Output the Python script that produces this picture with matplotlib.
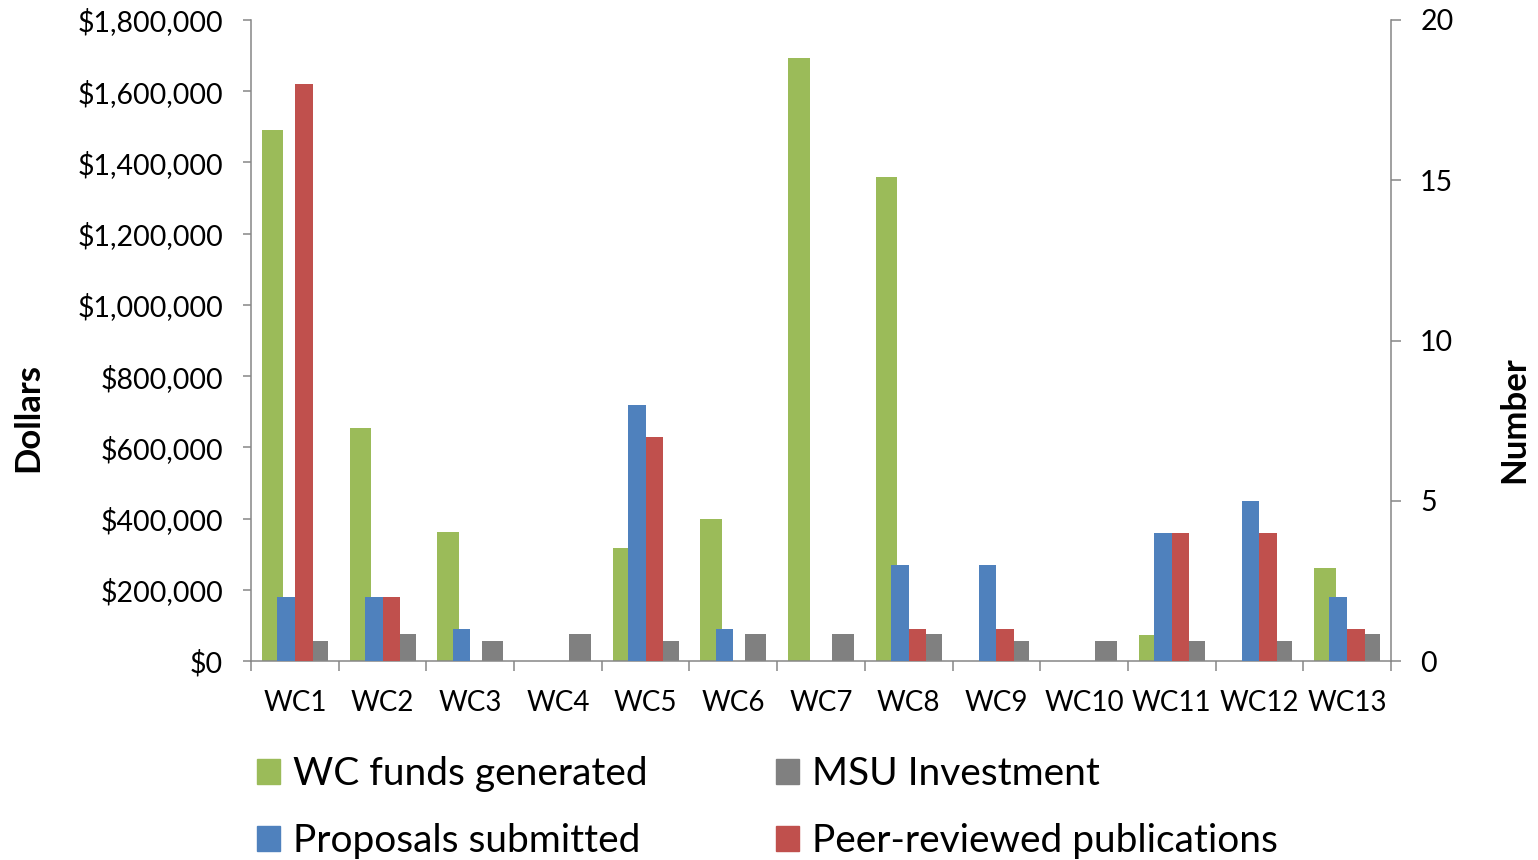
import numpy as np
import matplotlib
matplotlib.use("Agg")
import matplotlib.pyplot as plt
from matplotlib.patches import Patch
from matplotlib.ticker import FuncFormatter, MultipleLocator

plt.rcParams['font.family'] = ['Lato', 'DejaVu Sans']

# data
categories = ["WC1", "WC2", "WC3", "WC4", "WC5", "WC6", "WC7",
              "WC8", "WC9", "WC10", "WC11", "WC12", "WC13"]
wc_funds = [1490000, 653000, 363000, 0, 318000, 400000, 1693000,
            1360000, 0, 0, 73000, 0, 260000]
msu_investment = [57000, 77000, 57000, 77000, 57000, 77000, 77000,
                  77000, 57000, 57000, 57000, 57000, 77000]
proposals = [2, 2, 1, 0, 8, 1, 0, 3, 3, 0, 4, 5, 2]
publications = [18, 2, 0, 0, 7, 0, 0, 1, 1, 0, 4, 4, 1]

GREEN = '#9BBB59'
BLUE = '#4F81BD'
RED = '#C0504D'
GRAY = '#808080'
AXIS = '#868686'

fig = plt.figure(figsize=(15.38, 8.6), dpi=100)
ax = fig.add_axes([251 / 1538, 1 - 661 / 860, 1140 / 1538, 641 / 860])
ax2 = ax.twinx()

x = np.arange(len(categories))

# dollars on the left axis, counts on the right one
ax.bar(x - 0.253, wc_funds, width=0.247, color=GREEN)
ax.bar(x + 0.253, msu_investment, width=0.247, color=GRAY)
ax2.bar(x - 0.101, proposals, width=0.202, color=BLUE)
ax2.bar(x + 0.101, publications, width=0.202, color=RED)

ax.set_xlim(-0.5, len(categories) - 0.5)
ax.set_ylim(0, 1800000)
ax2.set_ylim(0, 20)

ax.yaxis.set_major_locator(MultipleLocator(200000))
ax.yaxis.set_major_formatter(FuncFormatter(lambda v, p: "${:,.0f}".format(v)))
ax2.yaxis.set_major_locator(MultipleLocator(5))

# ticks at category boundaries, labels at centres
ax.set_xticks(np.arange(-0.5, len(categories), 1.0))
ax.set_xticklabels([])
ax.set_xticks(x, minor=True)
ax.set_xticklabels(categories, minor=True)
ax.tick_params(axis='x', which='minor', length=0, pad=21, labelsize=20)
ax.tick_params(axis='x', which='major', direction='out', length=7,
               width=1.1, color=AXIS)
ax.tick_params(axis='y', direction='out', length=6, width=1.1, color=AXIS,
               pad=14, labelsize=20.5)
ax2.tick_params(axis='y', direction='out', length=7, width=1.1, color=AXIS,
                pad=14, labelsize=20.5)

for a in (ax, ax2):
    for s in a.spines.values():
        s.set_color(AXIS)
        s.set_linewidth(1.1)
    a.spines['top'].set_visible(False)
ax.spines['right'].set_visible(False)
ax2.spines['left'].set_visible(False)
ax2.spines['bottom'].set_visible(False)

fig.text(28 / 1538, 1 - 418 / 860, "Dollars", rotation=90, ha='center',
         va='center', fontsize=25, fontweight='bold')
fig.text(1514 / 1538, 1 - 420 / 860, "Number", rotation=90, ha='center',
         va='center', fontsize=25, fontweight='bold')

handles = [Patch(color=GREEN), Patch(color=BLUE),
           Patch(color=GRAY), Patch(color=RED)]
labels = ["WC funds generated", "Proposals submitted",
          "MSU Investment", "Peer-reviewed publications"]
fig.legend(handles, labels, ncol=2, loc='upper left',
           bbox_to_anchor=(257 / 1538, 1 - 756 / 860), frameon=False,
           fontsize=28, handlelength=0.6, handleheight=0.6,
           handletextpad=0.33, columnspacing=3.3, labelspacing=0.8,
           borderpad=0, borderaxespad=0)

fig.savefig("out.png", dpi=100)
